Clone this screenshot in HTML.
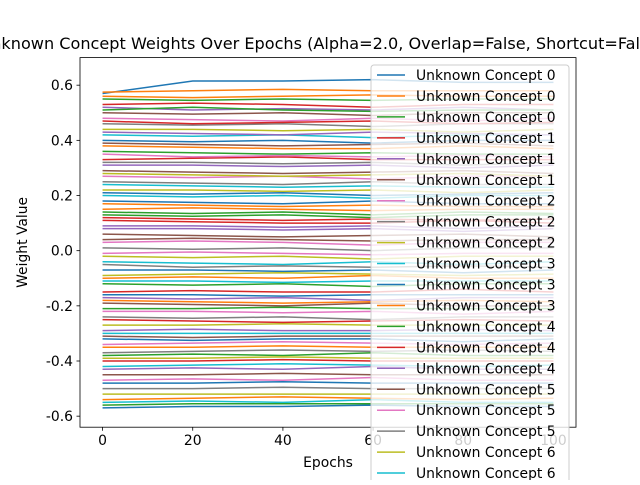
<!DOCTYPE html>
<html><head><meta charset="utf-8"><style>
body{margin:0;background:#fff;font-family:"Liberation Sans","DejaVu Sans",sans-serif}
svg text{font-family:"DejaVu Sans","Liberation Sans",sans-serif}
</style></head><body>
<svg id="c" width="640" height="480" viewBox="0 0 640 480"></svg>
<script>
const epochs=[0,20,40,60,80,100];
const series=[
[0.57,0.615,0.615,0.62,0.61,0.61],[0.575,0.58,0.585,0.58,0.58,0.58],[0.55,0.545,0.55,0.545,0.55,0.55],
[0.53,0.535,0.53,0.52,0.53,0.53],[0.52,0.51,0.515,0.51,0.52,0.51],[0.50,0.495,0.50,0.49,0.50,0.50],
[0.48,0.475,0.47,0.48,0.47,0.48],[0.46,0.455,0.46,0.45,0.46,0.46],[0.44,0.44,0.435,0.44,0.43,0.44],
[0.42,0.415,0.42,0.41,0.42,0.42],[0.40,0.395,0.40,0.39,0.40,0.40],[0.38,0.375,0.37,0.37,0.38,0.37],
[0.36,0.355,0.35,0.355,0.35,0.35],[0.33,0.335,0.34,0.33,0.33,0.33],[0.31,0.31,0.305,0.31,0.30,0.31],
[0.29,0.285,0.28,0.285,0.29,0.28],[0.27,0.265,0.27,0.26,0.27,0.27],[0.25,0.245,0.24,0.25,0.24,0.24],
[0.22,0.22,0.215,0.22,0.21,0.22],[0.20,0.195,0.20,0.19,0.20,0.20],[0.18,0.175,0.17,0.18,0.17,0.17],
[0.15,0.155,0.15,0.145,0.15,0.15],[0.13,0.125,0.13,0.12,0.13,0.13],[0.11,0.105,0.10,0.10,0.11,0.10],
[0.08,0.08,0.075,0.08,0.07,0.08],[0.06,0.055,0.05,0.055,0.06,0.05],[0.03,0.035,0.03,0.02,0.03,0.03],
[0.01,0.005,0.01,0.0,0.01,0.01],[-0.02,-0.025,-0.02,-0.03,-0.02,-0.02],[-0.04,-0.045,-0.05,-0.04,-0.05,-0.04],
[-0.07,-0.07,-0.075,-0.07,-0.08,-0.07],[-0.10,-0.095,-0.10,-0.09,-0.10,-0.10],[-0.12,-0.125,-0.12,-0.13,-0.12,-0.12],
[-0.15,-0.145,-0.15,-0.15,-0.14,-0.15],[-0.17,-0.175,-0.17,-0.18,-0.17,-0.17],[-0.19,-0.195,-0.20,-0.19,-0.20,-0.20],
[-0.22,-0.22,-0.225,-0.22,-0.23,-0.22],[-0.24,-0.245,-0.24,-0.25,-0.24,-0.24],[-0.27,-0.27,-0.265,-0.27,-0.27,-0.27],
[-0.30,-0.30,-0.30,-0.30,-0.30,-0.30],[-0.32,-0.325,-0.32,-0.32,-0.33,-0.32],[-0.35,-0.35,-0.345,-0.35,-0.35,-0.35],
[-0.38,-0.375,-0.38,-0.37,-0.38,-0.38],[-0.40,-0.40,-0.395,-0.40,-0.40,-0.40],[-0.43,-0.425,-0.43,-0.42,-0.43,-0.43],
[-0.45,-0.45,-0.445,-0.45,-0.45,-0.45],[-0.47,-0.465,-0.47,-0.46,-0.47,-0.47],[-0.50,-0.50,-0.495,-0.50,-0.50,-0.50],
[-0.52,-0.52,-0.52,-0.52,-0.52,-0.52],[-0.55,-0.545,-0.55,-0.54,-0.55,-0.55],[-0.57,-0.565,-0.565,-0.56,-0.565,-0.565],
[0.56,0.555,0.56,0.565,0.56,0.56],[0.51,0.52,0.51,0.505,0.51,0.51],[0.47,0.46,0.465,0.47,0.46,0.465],
[0.43,0.425,0.42,0.43,0.425,0.42],[0.39,0.385,0.38,0.385,0.39,0.38],[0.35,0.34,0.345,0.34,0.345,0.34],
[0.32,0.32,0.315,0.32,0.31,0.32],[0.28,0.275,0.27,0.275,0.28,0.27],[0.24,0.235,0.23,0.235,0.23,0.23],
[0.21,0.205,0.21,0.20,0.205,0.21],[0.17,0.165,0.16,0.165,0.16,0.16],[0.14,0.135,0.14,0.13,0.14,0.135],
[0.12,0.115,0.11,0.115,0.11,0.115],[0.09,0.09,0.085,0.09,0.08,0.09],[0.04,0.045,0.04,0.035,0.04,0.04],
[-0.01,-0.005,-0.01,-0.015,-0.01,-0.01],[-0.05,-0.06,-0.055,-0.06,-0.055,-0.06],[-0.09,-0.085,-0.08,-0.085,-0.09,-0.085],
[-0.11,-0.11,-0.115,-0.11,-0.11,-0.11],[-0.16,-0.16,-0.165,-0.16,-0.16,-0.16],[-0.18,-0.185,-0.19,-0.185,-0.18,-0.185],
[-0.21,-0.21,-0.205,-0.21,-0.21,-0.21],[-0.25,-0.255,-0.26,-0.255,-0.25,-0.255],[-0.29,-0.285,-0.29,-0.29,-0.285,-0.29],
[-0.31,-0.315,-0.31,-0.31,-0.31,-0.31],[-0.34,-0.335,-0.33,-0.335,-0.34,-0.335],[-0.37,-0.365,-0.36,-0.365,-0.36,-0.365],
[-0.39,-0.39,-0.385,-0.39,-0.39,-0.39],[-0.42,-0.415,-0.41,-0.415,-0.42,-0.415],[-0.48,-0.48,-0.475,-0.48,-0.48,-0.48],
[-0.54,-0.535,-0.53,-0.535,-0.54,-0.535],[-0.56,-0.555,-0.555,-0.555,-0.555,-0.555]
];
const xTicks=[0,20,40,60,80,100];
const yTicks=[-0.6,-0.4,-0.2,0.0,0.2,0.4,0.6];
const legendLabels=["Unknown Concept 0","Unknown Concept 0","Unknown Concept 0","Unknown Concept 1","Unknown Concept 1","Unknown Concept 1","Unknown Concept 2","Unknown Concept 2","Unknown Concept 2","Unknown Concept 3","Unknown Concept 3","Unknown Concept 3","Unknown Concept 4","Unknown Concept 4","Unknown Concept 4","Unknown Concept 5","Unknown Concept 5","Unknown Concept 5","Unknown Concept 6","Unknown Concept 6"];
const colors=["#1f77b4","#ff7f0e","#2ca02c","#d62728","#9467bd","#8c564b","#e377c2","#7f7f7f","#bcbd22","#17becf"];
const L=80,R=576,T=57.6,B=427.2,X0=-5,X1=105,Y0=-0.64,Y1=0.70;
const sx=v=>L+(v-X0)/(X1-X0)*(R-L), sy=v=>B-(v-Y0)/(Y1-Y0)*(B-T);
const svg=document.getElementById('c');const NS="http://www.w3.org/2000/svg";
function mk(t,a,p){const e=document.createElementNS(NS,t);for(const k in a)e.setAttribute(k,a[k]);(p||svg).appendChild(e);return e;}
const cp=mk('clipPath',{id:'cl'});mk('rect',{x:L,y:T,width:R-L,height:B-T},cp);
const g=mk('g',{'clip-path':'url(#cl)'});
series.forEach((s,i)=>{const p=mk('polyline',{points:s.map((v,j)=>sx(epochs[j])+','+sy(v)).join(' '),fill:'none',stroke:colors[i%10],'stroke-width':1.5},g);
});
const fr=mk('rect',{x:L,y:T,width:R-L,height:B-T,fill:'none',stroke:'#000','stroke-width':0.8});

xTicks.forEach(v=>{mk('line',{x1:sx(v),x2:sx(v),y1:B,y2:B+3.5,stroke:'#000','stroke-width':0.8});
const t=mk('text',{x:sx(v),y:B+18,'text-anchor':'middle','font-size':13.9});t.textContent=v;});
yTicks.forEach(v=>{mk('line',{x1:L-3.5,x2:L,y1:sy(v),y2:sy(v),stroke:'#000','stroke-width':0.8});
const t=mk('text',{x:L-7,y:sy(v)+5,'text-anchor':'end','font-size':13.9});t.textContent=v.toFixed(1);});
let t=mk('text',{x:(L+R)/2,y:467,'text-anchor':'middle','font-size':13.9});t.textContent='Epochs';
t=mk('text',{x:27,y:(T+B)/2,'text-anchor':'middle','font-size':13.9,transform:`rotate(-90 27 ${(T+B)/2})`});t.textContent='Weight Value';
t=mk('text',{x:322,y:49,'text-anchor':'middle','font-size':16.1});t.textContent='Unknown Concept Weights Over Epochs (Alpha=2.0, Overlap=False, Shortcut=False)';
const lg=mk('g',{});
mk('rect',{x:371,y:65,width:198,height:440,rx:3,fill:'#fff','fill-opacity':0.8,stroke:'#ccc'},lg);
legendLabels.forEach((s,i)=>{const y=75+i*20.95;
const e=mk('g',{},lg);
mk('line',{x1:377,x2:405,y1:y,y2:y,stroke:colors[i%10],'stroke-width':1.5},e);
const tx=mk('text',{x:416,y:y+5,'font-size':13.9},e);tx.textContent=s;});
</script>
</body></html>
